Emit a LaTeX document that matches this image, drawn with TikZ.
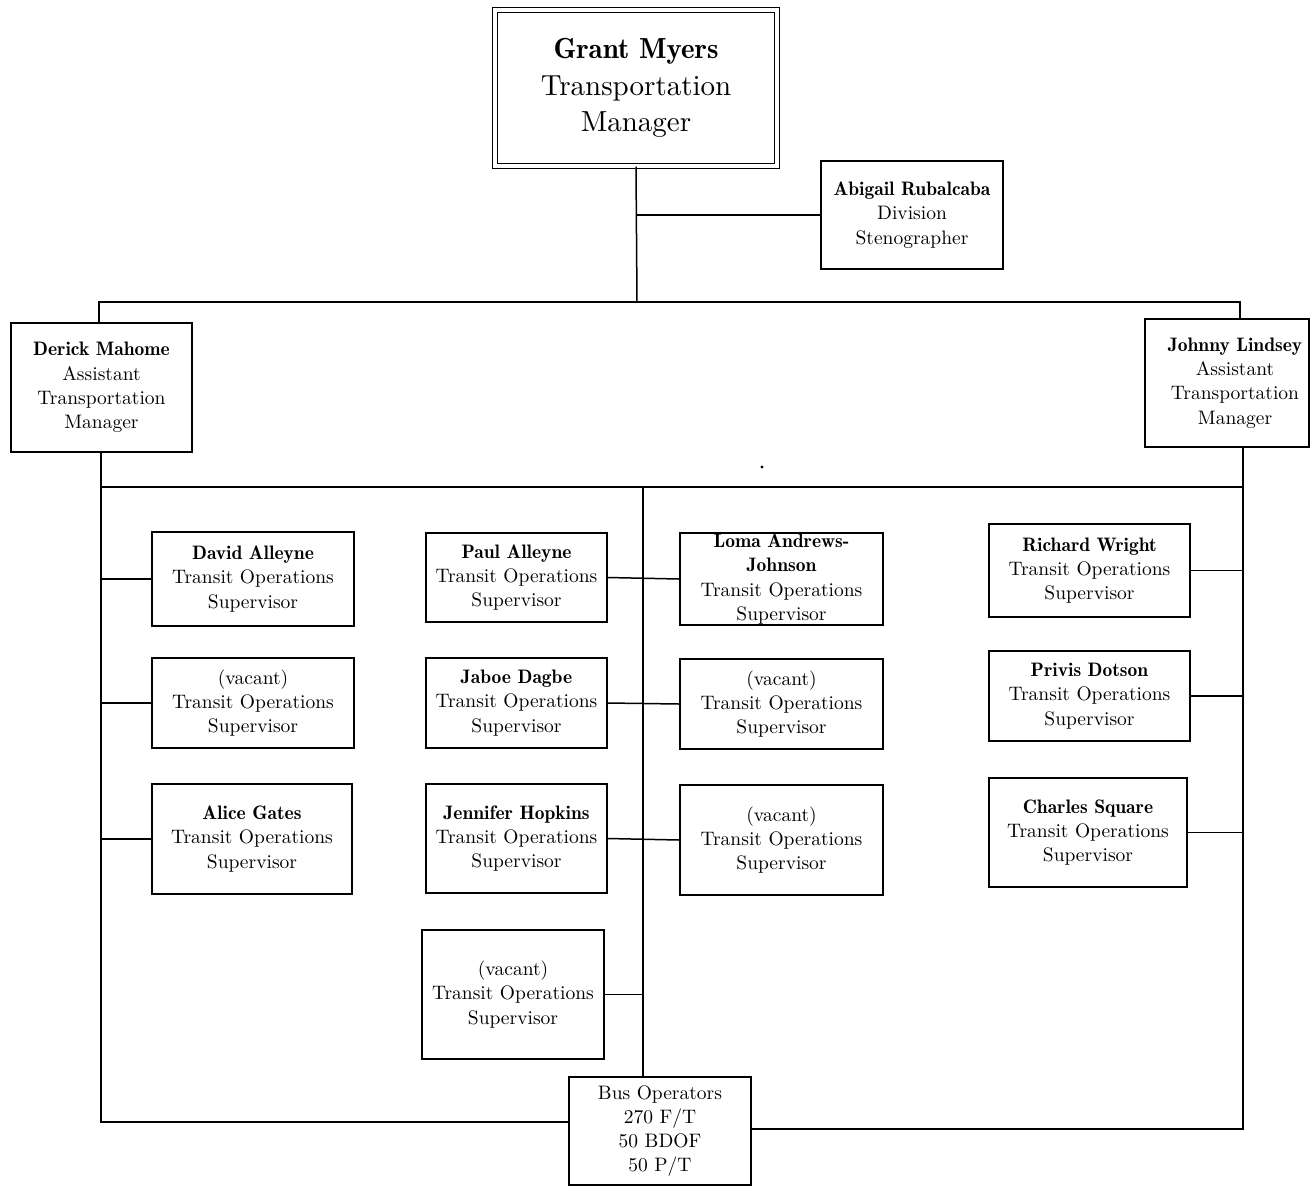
\documentclass[tikz,border=0pt]{standalone}
\usepackage{fontspec}
\setmainfont{lmroman10-regular.otf}[BoldFont=lmromandemi10-regular.otf]
\begin{document}
\begin{tikzpicture}[x=1pt,y=-1pt,
  box/.style={draw,line width=1.6pt,rectangle,inner sep=0pt},
  lbl/.style={align=center,inner sep=0pt,font=\fontsize{19.5}{24.3}\selectfont},
  conn/.style={line width=1.5pt}]
\useasboundingbox (0,0) rectangle (1310,1187);
\newcommand\orgbox[6]{%
  \node[box,minimum width=#4pt,minimum height=#5pt] (#1) at (#2,#3) {};
  \node[lbl] (#1-t) at (#1.center) {#6};}
% top
\node[draw,line width=1.4pt,double,double distance=3.6pt,minimum width=282pt,minimum height=156pt,inner sep=0pt] (gm) at (636,88) {};
\node[align=center,inner sep=0pt,font=\fontsize{29}{36.5}\selectfont] (gm-t) at (gm.center) {\textbf{Grant Myers}\\Transportation\\Manager};
\orgbox{abigail}{912}{215}{182}{108}{\textbf{Abigail Rubalcaba}\\Division\\Stenographer}
\orgbox{derick}{101.5}{387.5}{181}{129}{\textbf{Derick Mahome}\\Assistant\\Transportation\\Manager}
\node[box,minimum width=164pt,minimum height=128pt] (johnny) at (1227,383) {};
\node[lbl] (johnny-t) at (1235,383) {\textbf{Johnny Lindsey}\\Assistant\\Transportation\\Manager};
\orgbox{bus}{660}{1131}{182}{108}{Bus Operators\\270 F/T\\50 BDOF\\50 P/T}
% column 1
\orgbox{david}{253}{579}{202}{94}{\textbf{David Alleyne}\\Transit Operations\\Supervisor}
\orgbox{vaca}{253}{703}{202}{90}{(vacant)\\Transit Operations\\Supervisor}
\orgbox{alice}{252}{839}{200}{110}{\textbf{Alice Gates}\\Transit Operations\\Supervisor}
% column 2
\orgbox{paul}{516.5}{577.5}{181}{89}{\textbf{Paul Alleyne}\\Transit Operations\\Supervisor}
\orgbox{jaboe}{516.5}{703}{181}{90}{\textbf{Jaboe Dagbe}\\Transit Operations\\Supervisor}
\orgbox{jennifer}{516.5}{838.5}{181}{109}{\textbf{Jennifer Hopkins}\\Transit Operations\\Supervisor}
\orgbox{vacb}{513}{994.5}{182}{129}{(vacant)\\Transit Operations\\Supervisor}
% column 3
\orgbox{loma}{781.5}{579}{203}{92}{\textbf{Loma Andrews-}\\\textbf{Johnson}\\Transit Operations\\Supervisor}
\orgbox{vacc}{781.5}{704}{203}{90}{(vacant)\\Transit Operations\\Supervisor}
\orgbox{vacd}{781.5}{840}{203}{110}{(vacant)\\Transit Operations\\Supervisor}
% column 4
\orgbox{richard}{1089.5}{570.5}{201}{93}{\textbf{Richard Wright}\\Transit Operations\\Supervisor}
\orgbox{privis}{1089.5}{696}{201}{90}{\textbf{Privis Dotson}\\Transit Operations\\Supervisor}
\orgbox{charles}{1088}{832.5}{198}{109}{\textbf{Charles Square}\\Transit Operations\\Supervisor}
% coordinates
\coordinate (J0) at (637,302);
\coordinate (JL) at (99,302);
\coordinate (JR) at (1240,302);
\coordinate (L2) at (101,487);
\coordinate (R2) at (1243,487);
\coordinate (M2) at (643,487);
\coordinate (LB) at (101,1122);
\coordinate (RB) at (1243,1129);
% connectors
\draw[conn] (gm.south) -- (J0);
\draw[conn] (abigail.west) -- (abigail.west -| J0);
\draw[conn] (JL |- derick.north) -- (JL) -- (JR) -- (JR |- johnny.north);
\draw[conn] (derick.south -| L2) -- (L2) -- (R2);
\draw[conn] (R2 |- johnny.south) -- (R2);
\draw[conn] (L2) -- (LB) -- (LB -| bus.west);
\draw[conn] (R2) -- (RB) -- (RB -| bus.east);
\draw[conn] (M2) -- (M2 |- bus.north);
\draw[conn] (L2 |- david.west) -- (david.west);
\draw[conn] (L2 |- vaca.west) -- (vaca.west);
\draw[conn] (L2 |- alice.west) -- (alice.west);
\draw[conn] (paul.east) -- (loma.west);
\draw[conn] (jaboe.east) -- (vacc.west);
\draw[conn] (jennifer.east) -- (vacd.west);
\draw[conn] (vacb.east) -- (vacb.east -| M2);
\draw[conn] (richard.east) -- (richard.east -| R2);
\draw[conn] (privis.east) -- (privis.east -| R2);
\draw[conn] (charles.east) -- (charles.east -| R2);
\fill (762,467) circle (1.6);
\end{tikzpicture}
\end{document}
